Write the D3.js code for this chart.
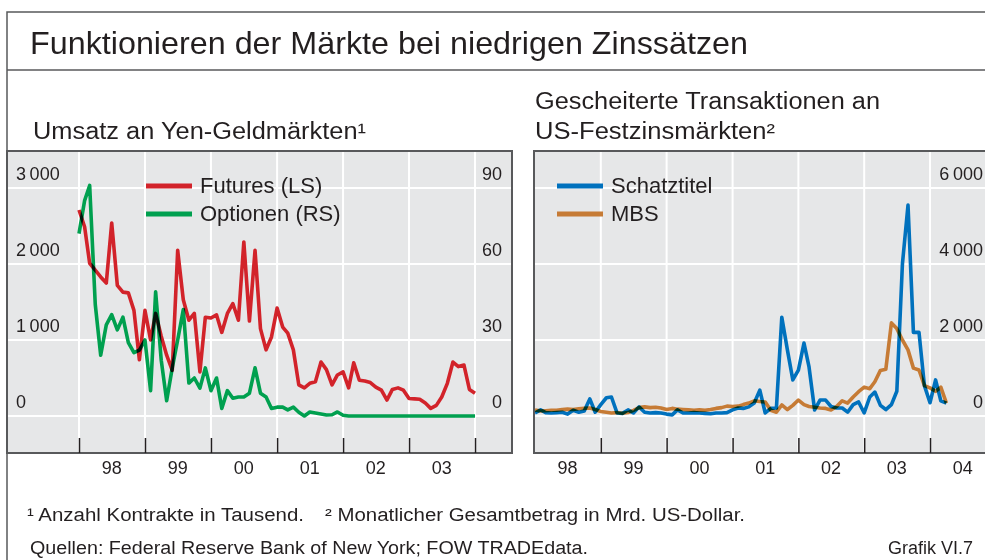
<!DOCTYPE html>
<html>
<head>
<meta charset="utf-8">
<script src="https://cdn.jsdelivr.net/npm/d3@7"></script>
<style>
  body { margin: 0; background: #fff; }
  svg { display: block; font-family: "Liberation Sans", Arial, sans-serif; }
  .line { mix-blend-mode: multiply; }
</style>
</head>
<body>
<div id="chart"></div>
<script>
// Yen-Geldmärkte, monatlich ab Jan 1998
const futures = [2710, 2490, 2010, 1920, 1830, 1750, 2540, 1720, 1630, 1620,
  1390, 740, 1390, 1000, 1350, 1050, 800, 600, 2180, 1530,
  1260, 1350, 580, 1300, 1290, 1330, 1100, 1350, 1480, 1260,
  2290, 1250, 2180, 1150, 870, 1040, 1420, 1170, 1090, 870,
  410, 370, 430, 450, 710, 610, 410, 540, 580, 370,
  700, 470, 460, 440, 380, 340, 210, 350, 370, 340,
  230, 225, 220, 170, 100, 140, 250, 430, 710, 650,
  670, 350, 300];
const optionen = [72, 85, 91, 44, 24, 36, 40, 34, 39, 29,
  25, 26, 30, 10, 49, 22, 6, 19, 30, 42,
  13, 15, 11, 19, 10, 15, 3, 10, 7, 7.5,
  7.5, 9, 19, 9, 7.5, 3, 3.5, 3.5, 2.4, 3.5,
  1.5, 0, 1.6, 1.2, 0.8, 0.4, 0.5, 1.6, 0.3, 0,
  0, 0, 0, 0, 0, 0, 0, 0, 0, 0,
  0, 0, 0, 0, 0, 0, 0, 0, 0, 0,
  0, 0, 0];

// US-Festzinsmärkte, monatlich ab Jan 1998
const schatztitel = [80, 160, 90, 80, 90, 100, 50, 150, 100, 130,
  450, 100, 300, 480, 500, 80, 70, 160, 80, 240,
  100, 80, 90, 80, 50, 30, 160, 80, 80, 90,
  80, 70, 60, 80, 80, 90, 160, 210, 200, 240,
  340, 680, 80, 200, 210, 2600, 1740, 950, 1210, 1920,
  1290, 160, 420, 420, 250, 210, 210, 100, 300, 370,
  80, 500, 630, 280, 170, 300, 650, 4000, 5550, 2200,
  2200, 800, 350, 950, 400, 340];
const mbs = [160, 130, 140, 150, 150, 170, 180, 170, 190, 200,
  210, 170, 120, 100, 80, 90, 70, 90, 150, 220,
  240, 220, 230, 210, 170, 200, 180, 170, 160, 150,
  160, 150, 170, 200, 220, 260, 250, 260, 300, 340,
  400, 380, 370, 150, 100, 290, 170, 280, 420, 300,
  250, 230, 210, 200, 160, 250, 400, 340, 500, 640,
  760, 720, 900, 1200, 1230, 2450, 2300, 2000, 1740, 1260,
  1210, 800, 740, 650, 760, 340];

const yearsLeft = ["98", "99", "00", "01", "02", "03"];
const yearsRight = ["98", "99", "00", "01", "02", "03", "04"];
const futTicks = [0, 1000, 2000, 3000];
const optTicks = [0, 30, 60, 90];
const usTicks = [0, 2000, 4000, 6000];

const W = 985, H = 560;
const ink = "#231f20", frame = "#58595b", bg = "#e6e7e8";
const fmt = v => v >= 1000 ? d3.format(",")(v).replace(",", "\u2009") : String(v);

const svg = d3.select("#chart").append("svg")
  .attr("width", W).attr("height", H);

// outer frame
svg.append("path")
  .attr("d", `M7,${H} V12 H${W}`)
  .attr("fill", "none").attr("stroke", frame).attr("stroke-width", 1.5);
svg.append("line").attr("x1", 7).attr("x2", W).attr("y1", 70).attr("y2", 70)
  .attr("stroke", frame).attr("stroke-width", 1.5);

svg.append("text").attr("x", 30).attr("y", 54)
  .attr("font-size", 32).attr("fill", ink)
  .attr("textLength", 718).attr("lengthAdjust", "spacingAndGlyphs")
  .text("Funktionieren der Märkte bei niedrigen Zinssätzen");

const plotTop = 151, plotBottom = 453;
const month = (i) => new Date(1998, i, 1);

function panel(o) {
  const g = svg.append("g");
  const x = d3.scaleTime().domain([new Date(1998, 0, 1), new Date(2004, 0, 1)]).range(o.xr);
  const clipId = "clip" + o.id;
  g.append("clipPath").attr("id", clipId).append("rect")
    .attr("x", o.x0).attr("y", plotTop).attr("width", o.x1 - o.x0).attr("height", plotBottom - plotTop);

  g.append("rect").attr("x", o.x0).attr("y", plotTop)
    .attr("width", o.x1 - o.x0).attr("height", plotBottom - plotTop).attr("fill", bg);

  const grid = g.append("g").attr("clip-path", `url(#${clipId})`);
  grid.selectAll("line.v").data(o.vgrid).join("line")
    .attr("x1", d => x(new Date(d, 0, 1))).attr("x2", d => x(new Date(d, 0, 1)))
    .attr("y1", plotTop).attr("y2", plotBottom).attr("stroke", "#fff").attr("stroke-width", 2);
  grid.selectAll("line.h").data(o.ticks).join("line")
    .attr("x1", o.x0).attr("x2", o.x1)
    .attr("y1", d => o.y(d)).attr("y2", d => o.y(d)).attr("stroke", "#fff").attr("stroke-width", 2);

  const lines = g.append("g").attr("clip-path", `url(#${clipId})`).style("isolation", "isolate");
  o.series.forEach(s => {
    lines.append("path").attr("class", "line")
      .datum(s.values)
      .attr("fill", "none").attr("stroke", s.color).attr("stroke-width", 3.6)
      .attr("stroke-linejoin", "round")
      .attr("d", d3.line().x((d, i) => x(month(i))).y(d => s.y(d)));
  });

  g.append("rect").attr("x", o.x0).attr("y", plotTop)
    .attr("width", o.x1 - o.x0).attr("height", plotBottom - plotTop)
    .attr("fill", "none").attr("stroke", frame).attr("stroke-width", 2);

  // x axis ticks (drawn upward) and year labels
  const ax = g.append("g").attr("transform", `translate(0,${plotBottom})`)
    .call(d3.axisTop(x).tickValues(o.tickDates).tickSize(15).tickFormat(""));
  ax.select(".domain").remove();
  ax.selectAll("line").attr("stroke", ink).attr("stroke-width", 1.5);

  g.selectAll("text.xl").data(o.labels).join("text")
    .attr("x", (d, i) => x(new Date(1998 + i, 6, 1)))
    .attr("y", 474).attr("text-anchor", "middle").attr("font-size", 18).attr("fill", ink)
    .text(d => d);

  return { g, x };
}

// left panel: Umsatz an Yen-Geldmärkten
const yFut = d3.scaleLinear().domain([0, 3000]).range([416, 188]);
const yOpt = d3.scaleLinear().domain([0, 90]).range([416, 188]);
const left = panel({
  id: "L", x0: 7, x1: 512, xr: [79, 475], ticks: futTicks, y: yFut,
  vgrid: d3.range(1998, 2005),
  tickDates: d3.range(1998, 2005).map(yr => new Date(yr, 0, 1)),
  labels: yearsLeft,
  series: [
    { values: futures, y: yFut, color: "#d2232a" },
    { values: optionen, y: yOpt, color: "#00a04f" }
  ]
});
left.g.selectAll("text.yl").data(futTicks).join("text")
  .attr("x", 16).attr("y", d => yFut(d) - 8).attr("font-size", 18).attr("fill", ink)
  .text(fmt);
left.g.selectAll("text.yr").data(optTicks).join("text")
  .attr("x", 502).attr("y", d => yOpt(d) - 8).attr("text-anchor", "end")
  .attr("font-size", 18).attr("fill", ink).text(fmt);

// right panel: Gescheiterte Transaktionen
const yUS = d3.scaleLinear().domain([0, 6000]).range([416, 188]);
const right = panel({
  id: "R", x0: 534, x1: 998, xr: [535, 930], ticks: usTicks, y: yUS,
  vgrid: d3.range(1999, 2006),
  tickDates: d3.range(1999, 2005).map(yr => new Date(yr, 0, 1)),
  labels: yearsRight,
  series: [
    { values: mbs, y: yUS, color: "#c67b35" },
    { values: schatztitel, y: yUS, color: "#0071bd" }
  ]
});
right.g.selectAll("text.yr").data(usTicks).join("text")
  .attr("x", 983).attr("y", d => yUS(d) - 8).attr("text-anchor", "end")
  .attr("font-size", 18).attr("fill", ink).text(fmt);

// panel titles
svg.append("text").attr("x", 33).attr("y", 139).attr("font-size", 23).attr("fill", ink)
  .attr("textLength", 333).attr("lengthAdjust", "spacingAndGlyphs")
  .text("Umsatz an Yen-Geldmärkten¹");
svg.append("text").attr("x", 535).attr("y", 109).attr("font-size", 23).attr("fill", ink)
  .attr("textLength", 345).attr("lengthAdjust", "spacingAndGlyphs")
  .text("Gescheiterte Transaktionen an");
svg.append("text").attr("x", 535).attr("y", 139).attr("font-size", 23).attr("fill", ink)
  .attr("textLength", 240).attr("lengthAdjust", "spacingAndGlyphs")
  .text("US-Festzinsmärkten²");

// legends
function legend(x0, items) {
  items.forEach((it, i) => {
    const y = 186 + i * 28;
    svg.append("line").attr("x1", x0).attr("x2", x0 + 46).attr("y1", y).attr("y2", y)
      .attr("stroke", it.color).attr("stroke-width", 5);
    svg.append("text").attr("x", x0 + 54).attr("y", y + 7).attr("font-size", 22)
      .attr("fill", ink).text(it.label);
  });
}
legend(146, [{ label: "Futures (LS)", color: "#d2232a" }, { label: "Optionen (RS)", color: "#00a04f" }]);
legend(557, [{ label: "Schatztitel", color: "#0071bd" }, { label: "MBS", color: "#c67b35" }]);

// footnotes
svg.append("text").attr("x", 27).attr("y", 521).attr("font-size", 18).attr("fill", ink)
  .attr("textLength", 277).attr("lengthAdjust", "spacingAndGlyphs")
  .text("¹ Anzahl Kontrakte in Tausend.");
svg.append("text").attr("x", 325).attr("y", 521).attr("font-size", 18).attr("fill", ink)
  .attr("textLength", 420).attr("lengthAdjust", "spacingAndGlyphs")
  .text("² Monatlicher Gesamtbetrag in Mrd. US-Dollar.");
svg.append("text").attr("x", 30).attr("y", 554).attr("font-size", 18).attr("fill", ink)
  .attr("textLength", 558).attr("lengthAdjust", "spacingAndGlyphs")
  .text("Quellen: Federal Reserve Bank of New York; FOW TRADEdata.");
svg.append("text").attr("x", 973).attr("y", 554).attr("font-size", 18).attr("fill", ink)
  .attr("text-anchor", "end")
  .text("Grafik VI.7");
</script>
</body>
</html>
